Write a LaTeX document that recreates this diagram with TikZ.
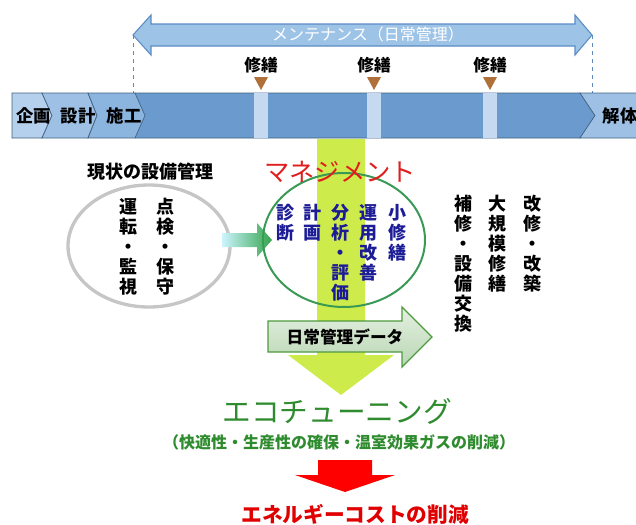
\documentclass[tikz,border=0pt]{standalone}
\usepackage{fontspec}
\newfontfamily\jp{Noto Sans CJK JP}
\usetikzlibrary{shadings}

\definecolor{barblue}{HTML}{6B9BCE}
\definecolor{chevA}{HTML}{B4D0EC}
\definecolor{chevB}{HTML}{9DC0E4}
\definecolor{chevC}{HTML}{8BB4DE}
\definecolor{sepblue}{HTML}{C5DAF0}
\definecolor{edgeblue}{HTML}{40607F}
\definecolor{mntblue}{HTML}{9DC3E6}
\definecolor{mntedge}{HTML}{5B8CC4}
\definecolor{repbrown}{HTML}{B0703A}
\definecolor{bandgreen}{HTML}{CDEB4B}
\definecolor{navy}{HTML}{1C1C96}
\definecolor{ellgreen}{HTML}{3A9A55}
\definecolor{ecogreen}{HTML}{2E8B2E}
\definecolor{mgtred}{HTML}{E01E1E}
\definecolor{costred}{HTML}{E00000}
\definecolor{dataedge}{HTML}{4E9A3E}

\begin{document}
\begin{tikzpicture}[x=0.75pt,y=-0.75pt,
  lbl/.style={font=\jp\bfseries\fontsize{13}{15}\selectfont},
  vcol/.style={font=\jp\bfseries\fontsize{13.5}{15}\selectfont, align=center, anchor=north, inner sep=0pt},
  chev/.style={draw=edgeblue, line width=0.5pt}]
\useasboundingbox (0,0) rectangle (636,525);

% maintenance arrow
\draw[fill=mntblue, draw=mntedge, line width=0.8pt] (133,35)--(151,15)--(151,24)--(575,24)--(575,15)--(592,35)--(575,55)--(575,46)--(151,46)--(151,55)--cycle;
\node[text=white, font=\jp\fontsize{12}{14}\selectfont] (mnt) at (368,34) {メンテナンス（日常管理）};
\draw[dashed, mntedge] (133,35)--(133,100);
\draw[dashed, mntedge] (592,35)--(592,100);

% life cycle bar
\draw[chev, fill=barblue] (135,93)--(580,93)--(595,115.5)--(580,138)--(135,138)--cycle;
\draw[chev, fill=chevB] (580,93)--(640,93)--(640,138)--(580,138)--(595,115.5)--cycle;
\draw[chev, fill=chevA] (12,93)--(42,93)--(52,115.5)--(42,138)--(12,138)--cycle;
\draw[chev, fill=chevB] (42,93)--(88,93)--(97,115.5)--(88,138)--(42,138)--(52,115.5)--cycle;
\draw[chev, fill=chevC] (88,93)--(135,93)--(145,115.5)--(135,138)--(88,138)--(97,115.5)--cycle;
\node[lbl] (plan) at (34,116) {企画};
\node[lbl] (design) at (78,116) {設計};
\node[lbl] (build) at (124,116) {施工};
\node[lbl] (demo) at (620,116) {解体};

% repairs
\foreach \x [count=\i] in {261,374,490}{
  \fill[sepblue] (\x-7,93) rectangle (\x+7,138);
  \fill[repbrown] (\x-7,77)--(\x+7,77)--(\x,90)--cycle;
  \node[font=\jp\bfseries\fontsize{12.5}{14}\selectfont] (rep\i) at (\x,65) {修繕};
}

% management band
\fill[bandgreen] (317,139)--(365,139)--(365,355)--(394,355)--(341,395)--(288,355)--(317,355)--cycle;

% present management
\draw[gray!45, line width=2.5pt] (149,246) ellipse (81 and 61);
\node[lbl, font=\jp\bfseries\fontsize{13.5}{15}\selectfont] (now) at (150,172) {現状の設備管理};
\node[vcol] (run) at (128,198) {運\\転\\・\\監\\視};
\node[vcol] (check) at (165,198) {点\\検\\・\\保\\守};

\shade[left color=blue!20!cyan!20, right color=ellgreen!90!green] (222,233)--(257,233)--(257,223)--(272,240)--(257,257)--(257,247)--(222,247)--cycle;

% management
\draw[ellgreen, line width=1.5pt] (344,240) ellipse (81 and 67);
\node[text=mgtred, font=\jp\fontsize{19}{21}\selectfont] (mgt) at (340,172) {マネジメント};
\begin{scope}[every node/.style={vcol, text=navy}]
\node (diag) at (285,204) {診\\断};
\node (plan2) at (312,204) {計\\画};
\node (eval) at (340,204) {分\\析\\・\\評\\価};
\node (impr) at (368,204) {運\\用\\改\\善};
\node (small) at (397,204) {小\\修\\繕};
\end{scope}

\node[vcol] (fix) at (463,195) {補\\修\\・\\設\\備\\交\\換};
\node[vcol] (big) at (497,195) {大\\規\\模\\修\\繕};
\node[vcol] (reno) at (532,195) {改\\修\\・\\改\\築};

% daily data
\shade[top color=white!85!dataedge, bottom color=dataedge!40!white, draw=dataedge, line width=1pt] (268,321)--(402,321)--(402,307)--(432,337)--(402,367)--(402,352)--(268,352)--cycle;
\node[font=\jp\bfseries\fontsize{12.5}{14}\selectfont] (data) at (345,337) {日常管理データ};

% results
\node[text=ecogreen, font=\jp\fontsize{21.5}{24}\selectfont] (eco) at (337,411) {エコチューニング};
\node[text=ecogreen, font=\jp\bfseries\fontsize{12}{14}\selectfont] (aim) at (339,442) {（快適性・生産性の確保・温室効果ガスの削減）};
\fill[red] (318,460)--(372,460)--(372,475)--(395,475)--(345,492)--(295,475)--(318,475)--cycle;
\node[text=costred, font=\jp\bfseries\fontsize{15.5}{18}\selectfont] (cost) at (355,514) {エネルギーコストの削減};
\end{tikzpicture}
\end{document}
